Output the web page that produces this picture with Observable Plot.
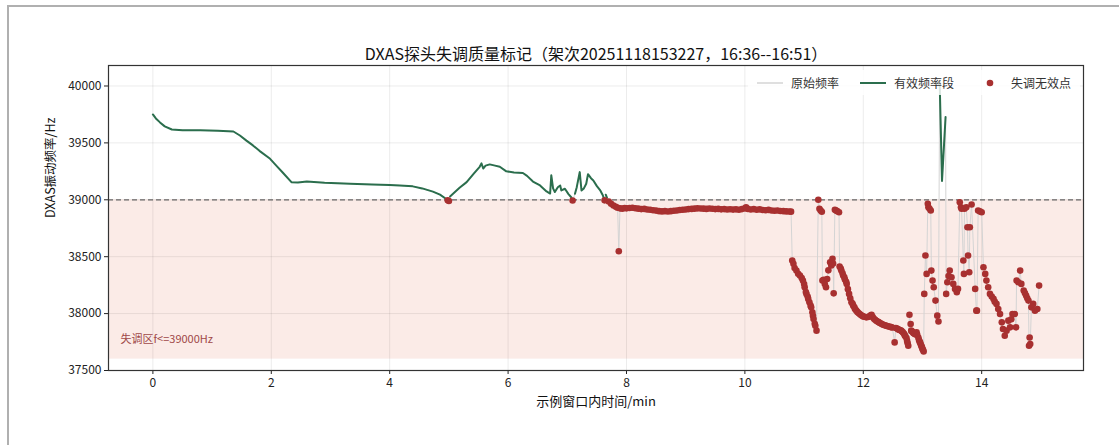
<!DOCTYPE html>
<html>
<head>
<meta charset="utf-8">
<script src="https://cdn.jsdelivr.net/npm/d3@7"></script>
<script src="https://cdn.jsdelivr.net/npm/@observablehq/plot@0.6"></script>
<style>
  html, body { margin: 0; padding: 0; background: #fff; }
  #wrap { position: relative; width: 1119px; height: 445px; overflow: hidden; font-family: 'Noto Sans CJK SC', sans-serif; }
  #border { position: absolute; left: 7px; top: 5px; width: 1200px; height: 600px; border-top: 2px solid #b0b0b0; border-left: 2px solid #b0b0b0; box-sizing: border-box; pointer-events: none; }
  #chart { position: absolute; left: 0; top: 0; }
  #legendbg { position: absolute; left: 748px; top: 70px; width: 332px; height: 25px; background: rgba(255,255,255,0.82); }
  .item { position: absolute; top: 70px; height: 25px; display: flex; align-items: center; font-size: 12px; color: #333; white-space: nowrap; }
  .item span { margin-left: 8px; }
</style>
</head>
<body>
<div id="wrap">
  <div id="chart"></div>
  <div id="legendbg"></div>
  <div id="border"></div>
</div>
<script>
const titleText = "DXAS探头失调质量标记（架次20251118153227，16:36--16:51）";
const xLabel = "示例窗口内时间/min";
const yLabel = "DXAS振动频率/Hz";
const zoneLabel = "失调区f<=39000Hz";
const legendLabels = ["原始频率", "有效频率段", "失调无效点"];
const xTicks = [0, 2, 4, 6, 8, 10, 12, 14];
const yTicks = [37500, 38000, 38500, 39000, 39500, 40000];
const threshold = 39000;
const bandLow = 37600;

const time = [
  0, 0.05, 0.12, 0.2, 0.32, 0.5, 0.8, 1.1, 1.36, 1.47, 1.58, 1.69, 1.8, 1.98, 2.1, 2.2, 2.34, 2.45, 2.6, 2.9,
  3.33, 3.7, 4.0, 4.17, 4.39, 4.55, 4.73, 4.85, 4.96,
  4.98, 5.0,
  5.02, 5.07, 5.18, 5.30, 5.42, 5.52, 5.55, 5.58, 5.62, 5.69, 5.78, 5.86, 5.97, 6.1, 6.25, 6.32, 6.42, 6.54, 6.65, 6.71,
  6.73, 6.76, 6.79, 6.84, 6.88, 6.90, 6.96, 7.02, 7.07,
  7.09,
  7.13, 7.16, 7.21, 7.24, 7.28, 7.32, 7.35, 7.40, 7.44, 7.50, 7.56, 7.60, 7.62,
  7.63,
  7.65, 7.67,
  7.70, 7.74, 7.78, 7.82, 7.85, 7.87, 7.89, 7.93, 7.97,
  8.00, 8.05, 8.10, 8.15, 8.20, 8.25, 8.30, 8.35, 8.40, 8.45, 8.50, 8.55, 8.60, 8.65, 8.70, 8.75, 8.80, 8.85, 8.90, 8.95,
  9.00, 9.05, 9.10, 9.15, 9.20, 9.25, 9.30, 9.35, 9.40, 9.45, 9.50, 9.55, 9.60, 9.65, 9.70, 9.75, 9.80, 9.85, 9.90, 9.95,
  10.00, 10.02, 10.05, 10.10, 10.15, 10.20, 10.25, 10.30, 10.35, 10.40, 10.45, 10.50, 10.55, 10.60, 10.65, 10.70, 10.75, 10.78,
  10.80, 10.82, 10.84, 10.87, 10.90, 10.93, 10.96, 10.98, 11.00, 11.01, 11.03, 11.04, 11.06, 11.07, 11.09, 11.11, 11.12, 11.14, 11.15, 11.16, 11.18, 11.19, 11.21,
  11.24, 11.26, 11.28, 11.30,
  11.31, 11.33, 11.35, 11.37, 11.39, 11.41, 11.44, 11.46, 11.48, 11.49, 11.50,
  11.52, 11.54, 11.56, 11.59,
  11.60, 11.62, 11.63, 11.65, 11.66, 11.68, 11.69, 11.71, 11.72, 11.74, 11.76, 11.78, 11.80, 11.82, 11.83, 11.85, 11.86, 11.88, 11.90, 11.92, 11.94, 11.96, 11.98, 12.00, 12.02, 12.05, 12.08, 12.10, 12.12, 12.14,
  12.16, 12.18, 12.20, 12.22, 12.24, 12.26, 12.28, 12.30, 12.32, 12.34, 12.36, 12.38, 12.40, 12.42, 12.45, 12.47,
  12.49, 12.53, 12.55, 12.57, 12.59, 12.60, 12.62, 12.64, 12.65, 12.67, 12.69, 12.70, 12.71, 12.73, 12.74, 12.75, 12.76,
  12.78, 12.80, 12.81, 12.82, 12.84, 12.85, 12.87, 12.88, 12.90, 12.91, 12.93, 12.94, 12.95, 12.96, 12.97, 12.98, 12.99, 13.00, 13.01, 13.02,
  13.03, 13.05, 13.07, 13.09, 13.10, 13.12, 13.14, 13.15, 13.17, 13.19, 13.22, 13.25, 13.27,
  13.29, 13.33, 13.39,
  13.40, 13.42, 13.44, 13.46, 13.49, 13.52, 13.55, 13.58, 13.60, 13.63, 13.65, 13.66, 13.69, 13.70, 13.71, 13.74, 13.76, 13.77,
  13.79, 13.80, 13.83, 13.89, 13.91, 13.92, 13.94, 13.97, 14.00,
  14.03, 14.06, 14.08, 14.11, 14.14, 14.17, 14.20, 14.22, 14.25, 14.28, 14.31, 14.34, 14.36, 14.39, 14.42, 14.45, 14.48, 14.50,
  14.52, 14.56, 14.58, 14.59, 14.62, 14.65, 14.67, 14.71, 14.73, 14.75, 14.77, 14.79, 14.80, 14.81, 14.82, 14.84, 14.87, 14.90,
  14.94, 14.97
];

const freq = [
  39750, 39715, 39680, 39645, 39618, 39612, 39610, 39606, 39600, 39565, 39520, 39478, 39430, 39360, 39292, 39235, 39155, 39152, 39160, 39150,
  39142, 39135, 39130, 39126, 39118, 39100, 39072, 39045, 39005,
  38996, 38990,
  39030, 39053, 39105, 39155, 39230, 39290, 39320, 39275, 39300, 39311, 39300, 39290, 39250, 39240, 39235, 39210, 39160, 39126, 39073, 39055,
  39215, 39100, 39068, 39110, 39126, 39082, 39097, 39050, 39020,
  38994,
  39053, 39111, 39243, 39082, 39100, 39141, 39225, 39190, 39170, 39120, 39080, 39040, 39010,
  38995,
  39045, 39020,
  38985, 38965, 38950, 38938, 38930, 38548, 38925, 38922, 38928,
  38925, 38928, 38930, 38926, 38922, 38918, 38920, 38915, 38912, 38908, 38905, 38900, 38898, 38900, 38897, 38900, 38904, 38906, 38910, 38912,
  38915, 38918, 38920, 38922, 38925, 38924, 38922, 38920, 38923, 38921, 38918, 38920, 38916, 38918, 38915, 38917, 38914, 38916, 38913, 38918,
  38925, 38935, 38920, 38915, 38918, 38912, 38916, 38910, 38908, 38911, 38906, 38904, 38906, 38902, 38900, 38898, 38897, 38896,
  38466, 38437, 38401, 38378, 38350, 38334, 38313, 38290, 38260, 38231, 38190, 38173, 38150, 38129, 38099, 38070, 38055, 38011, 37980, 37952, 37910, 37893, 37850,
  39000, 38921, 38905, 38895,
  38290, 38296, 38260, 38231, 38304, 38380, 38451, 38422, 38481, 38440, 38178,
  38912, 38905, 38900, 38891,
  38413, 38395, 38378, 38355, 38334, 38318, 38300, 38280, 38261, 38215, 38173, 38135, 38099, 38085, 38070, 38055, 38040, 38028, 38015, 38005, 37996, 37988, 37980, 37975, 37972, 37967, 37970, 37975, 37982, 37990,
  37970, 37955, 37945, 37937, 37930, 37925, 37918, 37912, 37906, 37902, 37898, 37895, 37891, 37888, 37885, 37881,
  37878, 37747, 37873, 37868, 37862, 37858, 37856, 37850, 37845, 37835, 37822, 37810, 37800, 37785, 37760, 37740, 37717,
  37990, 37908, 37850, 37845, 37835, 37828, 37820, 37818, 37835, 37815, 37790, 37770, 37755, 37747, 37730, 37717, 37705, 37690, 37680, 37667,
  38173, 38510, 38349, 38965, 38935, 38921, 38906, 38378, 38290, 38231, 38114, 37982, 37931,
  40040, 39165, 39727,
  38173, 38276, 38330, 38378, 38319, 38261, 38217, 38187, 38217, 38979, 38935, 38921, 38466, 38349, 38921, 38935, 38759, 38510,
  38363, 38759, 38959, 38217, 38026, 38026, 38906, 38898, 38891,
  38407, 38349, 38290, 38231, 38173, 38150, 38129, 38105, 38085, 38040, 37996, 37923, 37864, 37805, 37850, 37938, 37879, 37950,
  37996, 37996, 37879, 38290, 38276, 38378, 38261, 38202, 38180, 38158, 38135, 38114, 37717, 37790, 37732, 38055, 38085, 38026,
  38040, 38246
];

const colors = { raw: "#d4d4d4", valid: "#2b6e4d", bad: "#a83030", band: "#fbebe7", zoneText: "#a04848" };

const rows = time.map((t, i) => ({ t, f: freq[i] }));
const badRows = rows.filter(d => d.f <= threshold);

const plot = Plot.plot({
  width: 1119,
  height: 445,
  marginLeft: 108,
  marginRight: 36,
  marginTop: 65,
  marginBottom: 75,
  style: { fontFamily: "'Noto Sans CJK SC', sans-serif", fontSize: "12px", color: "#222", background: "transparent" },
  x: { domain: [-0.75, 15.72] },
  y: { domain: [37500, 40180] },
  marks: [
    Plot.rectY([{ y1: bandLow, y2: threshold }], { y1: "y1", y2: "y2", fill: colors.band }),
    Plot.gridX(xTicks, { stroke: "#000", strokeOpacity: 0.08 }),
    Plot.gridY(yTicks, { stroke: "#000", strokeOpacity: 0.08 }),
    Plot.ruleY([threshold], { stroke: "#666", strokeWidth: 1.2, strokeDasharray: "5,3" }),
    Plot.text([zoneLabel], { text: d => d, frameAnchor: "bottom-left", dx: 12, dy: -28, textAnchor: "start", fill: colors.zoneText, fontSize: 11 }),
    Plot.line(rows, { x: "t", y: "f", stroke: colors.raw, strokeWidth: 1 }),
    Plot.line(rows, { x: "t", y: d => d.f > threshold ? d.f : NaN, stroke: colors.valid, strokeWidth: 2 }),
    Plot.dot(badRows, { x: "t", y: "f", r: 3.3, fill: colors.bad }),
    Plot.axisX(xTicks, { tickSize: 4, tickPadding: 4, fontSize: 12, label: null, stroke: "#222" }),
    Plot.axisY(yTicks, { tickSize: 4, tickPadding: 3, fontSize: 12, label: null, stroke: "#222", tickFormat: d => String(d) }),
    Plot.frame({ stroke: "#333", strokeWidth: 1.2 }),
    Plot.text([titleText], { text: d => d, frameAnchor: "top", dy: -17, fontSize: 16, fill: "#111" }),
    Plot.text([xLabel], { text: d => d, frameAnchor: "bottom", dy: 35, fontSize: 13, fill: "#111" }),
    Plot.text([yLabel], { text: d => d, frameAnchor: "left", dx: -58, rotate: -90, fontSize: 12.5, fill: "#111" })
  ]
});
document.getElementById("chart").appendChild(plot);

const wrap = document.getElementById("wrap");
const swatches = [
  `<svg width="26" height="10"><line x1="0" y1="5" x2="26" y2="5" stroke="${colors.raw}" stroke-width="1.5"/></svg>`,
  `<svg width="26" height="10"><line x1="0" y1="5" x2="26" y2="5" stroke="${colors.valid}" stroke-width="2"/></svg>`,
  `<svg width="26" height="10"><circle cx="13" cy="5" r="3.3" fill="${colors.bad}"/></svg>`
];
const lefts = [757, 860, 977];
legendLabels.forEach((lab, i) => {
  const el = document.createElement("div");
  el.className = "item";
  el.style.left = lefts[i] + "px";
  el.innerHTML = swatches[i] + `<span>${lab}</span>`;
  wrap.insertBefore(el, document.getElementById("border"));
});
</script>
</body>
</html>
